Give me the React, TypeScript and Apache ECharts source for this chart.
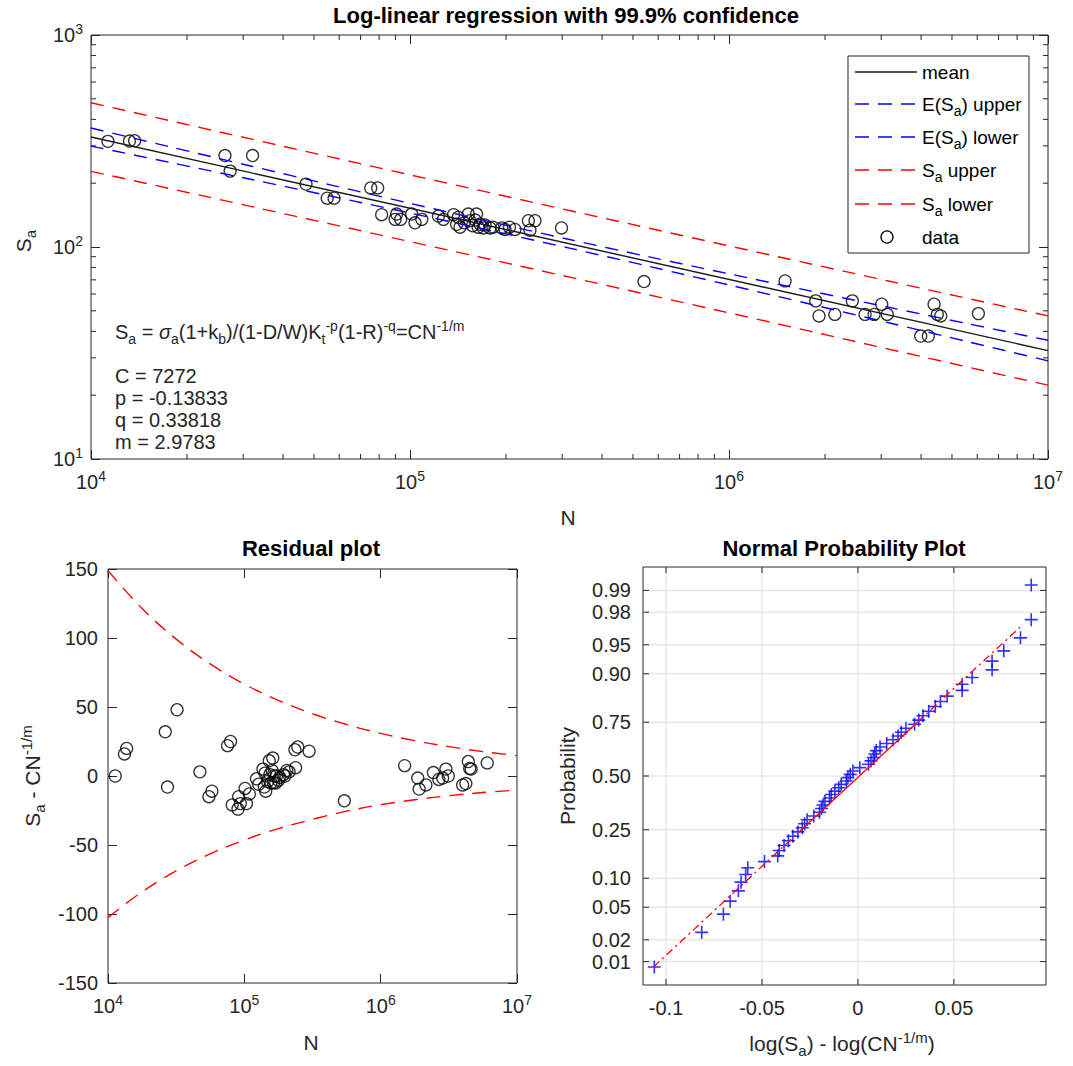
import React, { useEffect, useRef } from "react";
import * as echarts from "echarts";

// ---------- data ----------
const N_CYCLES = [
  11300, 13200, 13700, 26300, 27300, 32100, 47200, 55000, 57800, 75300,
  79200, 81500, 89800, 93500, 90800, 101200, 103700, 108900, 122800, 127300,
  136900, 143500, 141700, 152300, 154000, 161700, 163600, 169800, 178200, 193800,
  198500, 213300, 235000, 246500, 237700, 298500, 140000, 148000, 157000, 160000,
  166000, 172000, 182000, 205000, 541500, 1499000, 1870000, 1915000, 2147000, 2436000,
  2670000, 2849000, 3011000, 3134000, 3990000, 4216000, 4394000, 4498000, 4610000, 6050000,
];
const S_A = [
  315, 316, 317, 270, 228, 270, 198, 170, 170, 190,
  190, 142, 135, 135, 143, 143, 130, 135, 140, 135,
  142, 124, 138, 143, 133, 143, 124, 123, 123, 123,
  121, 121, 133, 133, 120, 123, 128, 130, 126, 134,
  128, 127, 124, 124, 68.7, 69.2, 55.7, 47.3, 48.1, 55.7,
  48.1, 48.1, 53.7, 48.1, 38.0, 38.0, 53.7, 48.1, 47.3, 48.5,
];
const RESIDUAL = [
  0, 16, 20, 32, -8, 48, 3, -15, -11, 22,
  25, -21, -24, -20, -15, -9, -20, -13, -2, -6,
  5, -11, 2, 11, 1, 13, -5, -5, -3, 1,
  0, 3, 19, 21, 6, 18, -8, -4, -5, 4,
  0, 0, -1, 4, -18, 7.5, -1.5, -9.5, -6.5, 2.5,
  -2.5, -1.5, 5, 0, -6.5, -5.5, 10.5, 5.5, 5, 9.5,
];
const LOG_RESIDUAL_SORTED = [
  -0.1061, -0.0814, -0.0701, -0.0666, -0.0623, -0.0609, -0.0585, -0.0574, -0.0487, -0.0418,
  -0.041, -0.0385, -0.0362, -0.0339, -0.0313, -0.029, -0.0278, -0.0265, -0.023, -0.02,
  -0.019, -0.0182, -0.0172, -0.0148, -0.0139, -0.012, -0.01, -0.0087, -0.0061, -0.0052,
  -0.004, -0.0026, 0.001, 0.0055, 0.0068, 0.008, 0.0088, 0.0096, 0.0115, 0.015,
  0.0183, 0.0209, 0.0226, 0.025, 0.0295, 0.0317, 0.0339, 0.0369, 0.0403, 0.043,
  0.0465, 0.0543, 0.0543, 0.0595, 0.0699, 0.0699, 0.076, 0.0847, 0.0903, 0.0903,
];

const BAND_N = [10000, 17783, 31623, 56234, 100000, 177828, 316228, 562341, 1000000, 1778279, 3162278, 5623413, 10000000];
const MEAN_N = [10000, 10000000];
const MEAN_S = [330.1, 32.47];
const S_UPPER = [478.9, 393.5, 323.5, 266.1, 219.0, 180.4, 148.6, 122.6, 101.2, 83.6, 69.1, 57.1, 47.3];
const S_LOWER = [227.5, 188.2, 155.5, 128.5, 106.0, 87.5, 72.1, 59.4, 48.9, 40.2, 33.0, 27.1, 22.3];
const E_UPPER = [364.1, 296.1, 241.1, 196.5, 160.6, 131.7, 108.5, 89.85, 74.72, 62.27, 51.97, 43.41, 36.3];
const E_LOWER = [299.2, 250.0, 208.7, 174.0, 144.6, 119.8, 98.75, 81.0, 66.2, 53.98, 43.93, 35.72, 29.04];
const RES_UPPER = [148.8, 121.4, 99.2, 81.2, 66.6, 54.8, 45.1, 37.3, 30.9, 25.6, 21.3, 17.7, 14.8];
const RES_LOWER = [-102.6, -83.9, -68.8, -56.4, -46.4, -38.1, -31.4, -25.5, -20.8, -17.2, -14.3, -12.0, -10.2];

const FIT_X = [-0.1066, -0.0295, 0.031, 0.0845];
const FIT_P = [0.0083, 0.25, 0.75, 0.969];

const PROB_TICKS = [0.01, 0.02, 0.05, 0.1, 0.25, 0.5, 0.75, 0.9, 0.95, 0.98, 0.99];
const PROB_LABELS = ["0.01", "0.02", "0.05", "0.10", "0.25", "0.50", "0.75", "0.90", "0.95", "0.98", "0.99"];
const NP_X_TICKS = [-0.1, -0.05, 0, 0.05];
const NP_X_LABELS = ["-0.1", "-0.05", "0", "0.05"];

// ---------- styling constants ----------
const FONT = "'Liberation Sans', Arial, Helvetica, sans-serif";
const AX = "#262626";
const GRIDC = "#dedede";
const TICK_FS = 20;
const NP_X_MIN = -0.112;
const NP_X_MAX = 0.098;
const NP_Y_MIN = -2.62;
const NP_Y_MAX = 2.62;

function normInv(p: number): number {
  const a = [-39.69683028665376, 220.9460984245205, -275.9285104469687, 138.357751867269, -30.66479806614716, 2.506628277459239];
  const b = [-54.47609879822406, 161.5858368580409, -155.6989798598866, 66.80131188771972, -13.28068155288572];
  const c = [-0.007784894002430293, -0.3223964580411365, -2.400758277161838, -2.549732539343734, 4.374664141464968, 2.938163982698783];
  const d = [0.007784695709041462, 0.3224671290700398, 2.445134137142996, 3.754408661907416];
  const pl = 0.02425;
  let q: number, r: number;
  if (p < pl) {
    q = Math.sqrt(-2 * Math.log(p));
    return (((((c[0] * q + c[1]) * q + c[2]) * q + c[3]) * q + c[4]) * q + c[5]) / ((((d[0] * q + d[1]) * q + d[2]) * q + d[3]) * q + 1);
  }
  if (p <= 1 - pl) {
    q = p - 0.5;
    r = q * q;
    return ((((((a[0] * r + a[1]) * r + a[2]) * r + a[3]) * r + a[4]) * r + a[5]) * q) / (((((b[0] * r + b[1]) * r + b[2]) * r + b[3]) * r + b[4]) * r + 1);
  }
  q = Math.sqrt(-2 * Math.log(1 - p));
  return -(((((c[0] * q + c[1]) * q + c[2]) * q + c[3]) * q + c[4]) * q + c[5]) / ((((d[0] * q + d[1]) * q + d[2]) * q + d[3]) * q + 1);
}

const minorDecades = (lo: number, hi: number) => {
  const out: number[] = [];
  for (let e = lo; e < hi; e++) for (let k = 2; k <= 9; k++) out.push(k * Math.pow(10, e));
  return out;
};
const MINOR_X = minorDecades(4, 7);
const MINOR_Y = minorDecades(1, 3);

const labelRich = (size: number, color: string) => ({
  b: { fontSize: size, fontFamily: FONT, color },
  s: { fontSize: Math.round(size * 0.7), fontFamily: FONT, color, padding: [0, 0, 12, 0] },
});
const gRich = (size: number, fill: string, weight: string) => ({
  b: { fontSize: size, fontFamily: FONT, fill, fontWeight: weight },
  i: { fontSize: size, fontFamily: FONT, fill, fontStyle: "italic" },
  s: { fontSize: Math.round(size * 0.72), fontFamily: FONT, fill, padding: [0, 0, 12, 0] },
  u: { fontSize: Math.round(size * 0.72), fontFamily: FONT, fill, padding: [14, 0, 0, 0] },
});

const gText = (x: number, y: number, text: string, opts: any = {}) => {
  const weight = opts.bold ? "bold" : "normal";
  return {
    type: "text",
    x,
    y,
    rotation: opts.rotation || 0,
    z: 100,
    style: {
      text,
      fill: opts.fill || AX,
      fontSize: opts.size || 19,
      fontFamily: FONT,
      fontWeight: weight,
      align: opts.align || "center",
      textAlign: opts.align || "center",
      verticalAlign: "middle",
      textVerticalAlign: "middle",
      rich: gRich(opts.size || 19, opts.fill || AX, weight),
    },
  };
};

const logLabel = (v: number) => `{b|10}{s|${Math.round(Math.log10(v))}}`;

function buildOption(): any {
  const tickStyle = { show: true, inside: true, length: 9, lineStyle: { color: AX, width: 1 } };
  const noLine = { show: false, onZero: false };
  const hiddenAxis = (grid: number, pos: string, extra: any) => ({
    gridIndex: grid,
    position: pos,
    axisLine: noLine,
    axisTick: tickStyle,
    axisLabel: { show: false },
    splitLine: { show: false },
    ...extra,
  });
  const logX = { type: "log", logBase: 10, min: 1e4, max: 1e7 };

  const xAxis = [
    {
      gridIndex: 0, position: "bottom", ...logX,
      axisLine: noLine, axisTick: tickStyle, splitLine: { show: false },
      axisLabel: { formatter: logLabel, margin: 10, rich: labelRich(TICK_FS, AX) },
    },
    hiddenAxis(0, "top", logX),
    {
      gridIndex: 1, position: "bottom", ...logX,
      axisLine: noLine, axisTick: tickStyle, splitLine: { show: false },
      axisLabel: { formatter: logLabel, margin: 10, rich: labelRich(TICK_FS, AX) },
    },
    hiddenAxis(1, "top", logX),
    {
      gridIndex: 2, type: "value", min: NP_X_MIN, max: NP_X_MAX,
      axisLine: noLine, axisTick: { show: false }, axisLabel: { show: false }, splitLine: { show: false },
    },
  ];
  const yAxis = [
    {
      gridIndex: 0, position: "left", type: "log", logBase: 10, min: 10, max: 1000,
      axisLine: noLine, axisTick: tickStyle, splitLine: { show: false },
      axisLabel: { formatter: logLabel, margin: 8, rich: labelRich(TICK_FS, AX) },
    },
    hiddenAxis(0, "right", { type: "log", logBase: 10, min: 10, max: 1000 }),
    {
      gridIndex: 1, position: "left", type: "value", min: -150, max: 150, interval: 50,
      axisLine: noLine, axisTick: tickStyle, splitLine: { show: false },
      axisLabel: { color: AX, fontSize: TICK_FS, fontFamily: FONT, margin: 10 },
    },
    hiddenAxis(1, "right", { type: "value", min: -150, max: 150, interval: 50 }),
    {
      gridIndex: 2, type: "value", min: NP_Y_MIN, max: NP_Y_MAX,
      axisLine: noLine, axisTick: { show: false }, axisLabel: { show: false }, splitLine: { show: false },
    },
  ];

  const pair = (xs: number[], ys: number[]) => xs.map((x, i) => [x, ys[i]]);
  const dashed = (color: string) => ({ color, width: 1.4, type: [13, 9] as any });

  const series: any[] = [
    // top plot minor ticks
    {
      type: "custom", xAxisIndex: 0, yAxisIndex: 0, silent: true, z: 3,
      data: MINOR_X.map((v) => [v, 10]),
      renderItem: (_p: any, api: any) => {
        const b = api.coord([api.value(0), 10]);
        const t = api.coord([api.value(0), 1000]);
        return {
          type: "group",
          children: [
            { type: "line", shape: { x1: b[0], y1: b[1], x2: b[0], y2: b[1] - 5 }, style: { stroke: AX, lineWidth: 1 } },
            { type: "line", shape: { x1: t[0], y1: t[1], x2: t[0], y2: t[1] + 5 }, style: { stroke: AX, lineWidth: 1 } },
          ],
        };
      },
    },
    {
      type: "custom", xAxisIndex: 0, yAxisIndex: 0, silent: true, z: 3,
      data: MINOR_Y.map((v) => [1e4, v]),
      renderItem: (_p: any, api: any) => {
        const l = api.coord([1e4, api.value(1)]);
        const r = api.coord([1e7, api.value(1)]);
        return {
          type: "group",
          children: [
            { type: "line", shape: { x1: l[0], y1: l[1], x2: l[0] + 5, y2: l[1] }, style: { stroke: AX, lineWidth: 1 } },
            { type: "line", shape: { x1: r[0], y1: r[1], x2: r[0] - 5, y2: r[1] }, style: { stroke: AX, lineWidth: 1 } },
          ],
        };
      },
    },
    { name: "S_a upper", type: "line", xAxisIndex: 0, yAxisIndex: 0, symbol: "none", data: pair(BAND_N, S_UPPER), lineStyle: dashed("#ff0000") },
    { name: "S_a lower", type: "line", xAxisIndex: 0, yAxisIndex: 0, symbol: "none", data: pair(BAND_N, S_LOWER), lineStyle: dashed("#ff0000") },
    { name: "E upper", type: "line", xAxisIndex: 0, yAxisIndex: 0, symbol: "none", smooth: 0.3, data: pair(BAND_N, E_UPPER), lineStyle: dashed("#0000ff") },
    { name: "E lower", type: "line", xAxisIndex: 0, yAxisIndex: 0, symbol: "none", smooth: 0.3, data: pair(BAND_N, E_LOWER), lineStyle: dashed("#0000ff") },
    { name: "mean", type: "line", xAxisIndex: 0, yAxisIndex: 0, symbol: "none", data: pair(MEAN_N, MEAN_S), lineStyle: { color: "#1a1a1a", width: 1.4 } },
    {
      name: "data", type: "scatter", xAxisIndex: 0, yAxisIndex: 0, symbol: "circle", symbolSize: 12,
      data: pair(N_CYCLES, S_A),
      itemStyle: { color: "rgba(0,0,0,0)", borderColor: "#000", borderWidth: 1.3 },
    },
    // residual plot
    { type: "line", xAxisIndex: 2, yAxisIndex: 2, symbol: "none", smooth: 0.4, data: pair(BAND_N, RES_UPPER), lineStyle: { color: "#ff0000", width: 1.4, type: [14, 9] } },
    { type: "line", xAxisIndex: 2, yAxisIndex: 2, symbol: "none", smooth: 0.4, data: pair(BAND_N, RES_LOWER), lineStyle: { color: "#ff0000", width: 1.4, type: [14, 9] } },
    {
      type: "scatter", xAxisIndex: 2, yAxisIndex: 2, symbol: "circle", symbolSize: 12,
      data: pair(N_CYCLES, RESIDUAL),
      itemStyle: { color: "rgba(0,0,0,0)", borderColor: "#000", borderWidth: 1.3 },
    },
    // normal probability plot: grid, ticks, labels
    {
      type: "custom", xAxisIndex: 4, yAxisIndex: 4, silent: true, clip: false, z: 1,
      data: NP_X_TICKS.map((v) => [v, 0]),
      renderItem: (params: any, api: any) => {
        const v = api.value(0);
        const b = api.coord([v, NP_Y_MIN]);
        const t = api.coord([v, NP_Y_MAX]);
        return {
          type: "group",
          children: [
            { type: "line", shape: { x1: b[0], y1: b[1], x2: t[0], y2: t[1] }, style: { stroke: GRIDC, lineWidth: 1 } },
            { type: "line", shape: { x1: b[0], y1: b[1], x2: b[0], y2: b[1] - 6 }, style: { stroke: AX, lineWidth: 1 } },
            { type: "line", shape: { x1: t[0], y1: t[1], x2: t[0], y2: t[1] + 6 }, style: { stroke: AX, lineWidth: 1 } },
            {
              type: "text", x: b[0], y: b[1] + 23,
              style: { text: NP_X_LABELS[params.dataIndex], fill: AX, fontSize: TICK_FS, fontFamily: FONT, align: "center", verticalAlign: "middle" },
            },
          ],
        };
      },
    },
    {
      type: "custom", xAxisIndex: 4, yAxisIndex: 4, silent: true, clip: false, z: 1,
      data: PROB_TICKS.map((p) => [NP_X_MIN, normInv(p)]),
      renderItem: (params: any, api: any) => {
        const z = api.value(1);
        const l = api.coord([NP_X_MIN, z]);
        const r = api.coord([NP_X_MAX, z]);
        return {
          type: "group",
          children: [
            { type: "line", shape: { x1: l[0], y1: l[1], x2: r[0], y2: r[1] }, style: { stroke: GRIDC, lineWidth: 1 } },
            { type: "line", shape: { x1: l[0], y1: l[1], x2: l[0] + 6, y2: l[1] }, style: { stroke: AX, lineWidth: 1 } },
            { type: "line", shape: { x1: r[0], y1: r[1], x2: r[0] - 6, y2: r[1] }, style: { stroke: AX, lineWidth: 1 } },
            {
              type: "text", x: l[0] - 12, y: l[1],
              style: { text: PROB_LABELS[params.dataIndex], fill: AX, fontSize: TICK_FS, fontFamily: FONT, align: "right", verticalAlign: "middle" },
            },
          ],
        };
      },
    },
    {
      type: "scatter", xAxisIndex: 4, yAxisIndex: 4, symbol: "path://M5,0L5,10M0,5L10,5", symbolSize: 13, z: 3,
      data: LOG_RESIDUAL_SORTED.map((x, i) => [x, normInv((i + 0.5) / LOG_RESIDUAL_SORTED.length)]),
      itemStyle: { color: "none", borderColor: "#0000ff", borderWidth: 1.6 },
    },
    {
      type: "line", xAxisIndex: 4, yAxisIndex: 4, symbol: "none", z: 4,
      data: [[FIT_X[0], normInv(FIT_P[0])], [FIT_X[1], normInv(FIT_P[1])]],
      lineStyle: { color: "#ff0000", width: 1.3, type: [8, 4, 2, 4] },
    },
    {
      type: "line", xAxisIndex: 4, yAxisIndex: 4, symbol: "none", z: 4,
      data: [[FIT_X[1], normInv(FIT_P[1])], [FIT_X[2], normInv(FIT_P[2])]],
      lineStyle: { color: "#ff0000", width: 1.3 },
    },
    {
      type: "line", xAxisIndex: 4, yAxisIndex: 4, symbol: "none", z: 4,
      data: [[FIT_X[2], normInv(FIT_P[2])], [FIT_X[3], normInv(FIT_P[3])]],
      lineStyle: { color: "#ff0000", width: 1.3, type: [8, 4, 2, 4] },
    },
  ];

  // legend (drawn with graphic elements)
  const LX0 = 855, LX1 = 917, LT = 922;
  const rows = [72, 104, 137, 170, 204, 237];
  const LFS = 19;
  const legendEls: any[] = [
    { type: "rect", z: 90, shape: { x: 848, y: 56, width: 181, height: 197 }, style: { fill: "#fff", stroke: AX, lineWidth: 1 } },
    { type: "line", z: 91, shape: { x1: LX0, y1: rows[0], x2: LX1, y2: rows[0] }, style: { stroke: "#1a1a1a", lineWidth: 1.4 } },
    { type: "line", z: 91, shape: { x1: LX0, y1: rows[1], x2: LX1, y2: rows[1] }, style: { stroke: "#0000ff", lineWidth: 1.4, lineDash: [14, 9] } },
    { type: "line", z: 91, shape: { x1: LX0, y1: rows[2], x2: LX1, y2: rows[2] }, style: { stroke: "#0000ff", lineWidth: 1.4, lineDash: [14, 9] } },
    { type: "line", z: 91, shape: { x1: LX0, y1: rows[3], x2: LX1, y2: rows[3] }, style: { stroke: "#ff0000", lineWidth: 1.4, lineDash: [14, 9] } },
    { type: "line", z: 91, shape: { x1: LX0, y1: rows[4], x2: LX1, y2: rows[4] }, style: { stroke: "#ff0000", lineWidth: 1.4, lineDash: [14, 9] } },
    { type: "circle", z: 91, shape: { cx: 887, cy: rows[5], r: 6 }, style: { fill: "none", stroke: "#000", lineWidth: 1.3 } },
    gText(LT, rows[0], "{b|mean}", { align: "left", size: LFS, fill: "#000" }),
    gText(LT, rows[1], "{b|E(S}{u|a}{b|) upper}", { align: "left", size: LFS, fill: "#000" }),
    gText(LT, rows[2], "{b|E(S}{u|a}{b|) lower}", { align: "left", size: LFS, fill: "#000" }),
    gText(LT, rows[3], "{b|S}{u|a}{b| upper}", { align: "left", size: LFS, fill: "#000" }),
    gText(LT, rows[4], "{b|S}{u|a}{b| lower}", { align: "left", size: LFS, fill: "#000" }),
    gText(LT, rows[5], "{b|data}", { align: "left", size: LFS, fill: "#000" }),
  ];

  const graphic: any[] = [
    gText(566, 15, "{b|Log-linear regression with 99.9% confidence}", { bold: true, size: 22, fill: "#000" }),
    gText(311, 548, "{b|Residual plot}", { bold: true, size: 22, fill: "#000" }),
    gText(844, 548, "{b|Normal Probability Plot}", { bold: true, size: 22, fill: "#000" }),
    gText(568, 517, "{b|N}", { size: 21 }),
    gText(311, 1042, "{b|N}", { size: 21 }),
    gText(842, 1043, "{b|log(S}{u|a}{b|) - log(CN}{s|-1/m}{b|)}", { size: 21 }),
    gText(23, 241, "{b|S}{u|a}", { size: 21, rotation: Math.PI / 2 }),
    gText(32, 776, "{b|S}{u|a}{b| - CN}{s|-1/m}", { size: 21, rotation: Math.PI / 2 }),
    gText(567, 776, "{b|Probability}", { size: 21, rotation: Math.PI / 2 }),
    gText(115, 332, "{b|S}{u|a}{b| = }{i|σ}{u|a}{b|(1+k}{u|b}{b|)/(1-D/W)K}{u|t}{s|-p}{b|(1-R)}{s|-q}{b|=CN}{s|-1/m}", { align: "left", size: 20 }),
    gText(115, 376, "{b|C = 7272}", { align: "left", size: 20 }),
    gText(115, 398, "{b|p = -0.13833}", { align: "left", size: 20 }),
    gText(115, 420, "{b|q = 0.33818}", { align: "left", size: 20 }),
    gText(115, 442, "{b|m = 2.9783}", { align: "left", size: 20 }),
    ...legendEls,
  ];

  return {
    animation: false,
    backgroundColor: "#ffffff",
    textStyle: { fontFamily: FONT },
    grid: [
      { left: 91, top: 35, width: 957, height: 424, show: true, borderColor: AX, borderWidth: 1, backgroundColor: "#fff" },
      { left: 108, top: 569, width: 409, height: 414, show: true, borderColor: AX, borderWidth: 1, backgroundColor: "#fff" },
      { left: 643, top: 567, width: 403, height: 418, show: true, borderColor: AX, borderWidth: 1, backgroundColor: "#fff" },
    ],
    xAxis,
    yAxis,
    series,
    graphic,
  };
}

export default function App() {
  const ref = useRef<HTMLDivElement>(null);
  useEffect(() => {
    if (!ref.current) return;
    const chart = echarts.init(ref.current, undefined, { renderer: "svg" });
    chart.setOption(buildOption());
    return () => chart.dispose();
  }, []);
  return (
    <div
      ref={ref}
      style={{ position: "absolute", left: 0, top: 0, width: 1073, height: 1066, background: "#fff" }}
    />
  );
}
